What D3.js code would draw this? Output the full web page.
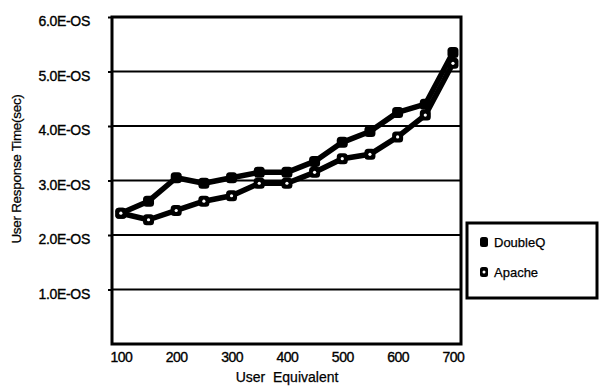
<!DOCTYPE html>
<html>
<head>
<meta charset="utf-8">
<script src="https://cdn.jsdelivr.net/npm/d3@7"></script>
<style>
  html, body { margin: 0; padding: 0; background: #fff; }
  svg { display: block; font-family: "Liberation Sans", Arial, sans-serif; }
</style>
</head>
<body>
<svg id="chart" width="599" height="391"></svg>
<script>
const userEquivalent = [100, 150, 200, 250, 300, 350, 400, 450, 500, 550, 600, 650, 700];
const doubleQ = [2.4, 2.62, 3.05, 2.95, 3.05, 3.15, 3.15, 3.35, 3.7, 3.9, 4.25, 4.4, 5.35];
const apache  = [2.4, 2.28, 2.45, 2.62, 2.72, 2.95, 2.95, 3.15, 3.4, 3.48, 3.8, 4.2, 5.15];
const seriesNames = ["DoubleQ", "Apache"];
const yTicks = [1, 2, 3, 4, 5, 6];
const yTickLabels = ["1.0E-OS", "2.0E-OS", "3.0E-OS", "4.0E-OS", "5.0E-OS", "6.0E-OS"];
const xTicks = [100, 200, 300, 400, 500, 600, 700];

const svg = d3.select("#chart");
const pLeft = 112, pRight = 461, pTop = 17, pBottom = 344;

const x = d3.scaleLinear().domain([84, 714.5]).range([pLeft, pRight]);
const y = d3.scaleLinear().domain([0, 6]).range([pBottom, pTop]);

// gridlines
svg.append("g").selectAll("line").data(yTicks.slice(0, 5)).join("line")
  .attr("x1", pLeft).attr("x2", pRight)
  .attr("y1", d => y(d)).attr("y2", d => y(d))
  .attr("stroke", "#000").attr("stroke-width", 2);

// y axis labels + ticks
const yAxis = d3.axisLeft(y).tickValues(yTicks)
  .tickFormat((d, i) => yTickLabels[i]).tickSize(4).tickPadding(18);
const gy = svg.append("g").attr("transform", `translate(${pLeft},0)`).call(yAxis);
gy.select(".domain").remove();
gy.selectAll(".tick line").attr("stroke", "#000").attr("stroke-width", 2);
gy.selectAll(".tick text").attr("font-size", 14).attr("fill", "#000")
  .attr("stroke", "#000").attr("stroke-width", 0.35)
  .attr("font-family", "Liberation Sans, Arial, sans-serif").attr("dy", "0.62em")
  .attr("letter-spacing", "-0.3");

// x axis labels
const xAxis = d3.axisBottom(x).tickValues(xTicks).tickSize(0).tickPadding(8);
const gx = svg.append("g").attr("transform", `translate(0,${pBottom})`).call(xAxis);
gx.select(".domain").remove();
gx.selectAll(".tick text").attr("font-size", 14).attr("fill", "#000")
  .attr("stroke", "#000").attr("stroke-width", 0.35)
  .attr("font-family", "Liberation Sans, Arial, sans-serif").attr("letter-spacing", "-0.5");

// frame
svg.append("rect").attr("x", pLeft).attr("y", pTop)
  .attr("width", pRight - pLeft).attr("height", pBottom - pTop)
  .attr("fill", "none").attr("stroke", "#000").attr("stroke-width", 3);

// axis titles
svg.append("text").attr("x", 287).attr("y", 382).attr("text-anchor", "middle")
  .attr("font-size", 14).attr("fill", "#000").attr("stroke", "#000").attr("stroke-width", 0.25)
  .style("white-space", "pre")
  .text("User  Equivalent");
svg.append("text").attr("transform", "translate(21,169) rotate(-90)")
  .attr("text-anchor", "middle").attr("font-size", 13.5).attr("fill", "#000")
  .attr("stroke", "#000").attr("stroke-width", 0.25)
  .attr("letter-spacing", "-0.3")
  .text("User Response Time(sec)");

// series
const line = d3.line().x((d, i) => x(userEquivalent[i])).y(d => y(d));
const seriesData = [doubleQ, apache];
seriesData.forEach((vals) => {
  svg.append("path").datum(vals).attr("d", line)
    .attr("fill", "none").attr("stroke", "#000").attr("stroke-width", 5.5)
    .attr("stroke-linejoin", "round");
});
seriesData.forEach((vals, si) => {
  const g = svg.append("g");
  g.selectAll("rect").data(vals).join("rect")
    .attr("x", (d, i) => x(userEquivalent[i]) - 5.5)
    .attr("y", d => y(d) - 5.5)
    .attr("width", 11).attr("height", 11).attr("rx", 3.5)
    .attr("fill", "#000");
  if (si === 1) {
    g.selectAll("circle").data(vals).join("circle")
      .attr("cx", (d, i) => x(userEquivalent[i]))
      .attr("cy", d => y(d)).attr("r", 1.6).attr("fill", "#fff");
  }
});

// legend
const lg = svg.append("g");
lg.append("rect").attr("x", 467).attr("y", 223).attr("width", 130).attr("height", 75)
  .attr("fill", "#fff").attr("stroke", "#000").attr("stroke-width", 3);
seriesNames.forEach((name, i) => {
  const cy = 242 + i * 30;
  lg.append("rect").attr("x", 480).attr("y", cy - 5).attr("width", 8).attr("height", 10)
    .attr("rx", 2.5).attr("fill", "#000");
  if (i === 1) lg.append("circle").attr("cx", 484).attr("cy", cy).attr("r", 1.5).attr("fill", "#fff");
  lg.append("text").attr("x", 494).attr("y", cy + 5).attr("font-size", 13)
    .attr("fill", "#000").attr("stroke", "#000").attr("stroke-width", 0.25).text(name);
});
</script>
</body>
</html>
